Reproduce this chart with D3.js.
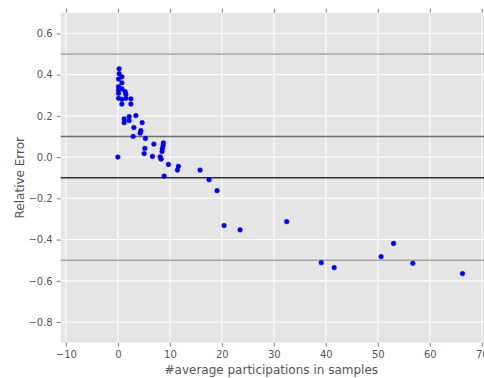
<!DOCTYPE html>
<html>
<head>
<meta charset="utf-8">
<script src="https://cdn.jsdelivr.net/npm/d3@7"></script>
<style>
  html, body { margin: 0; padding: 0; background: #fff; }
  svg { display: block; font-family: "DejaVu Sans", sans-serif; }
</style>
</head>
<body>
<div id="chart"></div>
<script>
// Average participations in samples (x) vs. relative error (y)
const participations = [
  0.25, 0.25, 0.77, 0.12, 0.77, 0.12, 0.77, 0.12, 0.12, 1.40, 1.54, 0.12, 0.77, 1.54, 2.50,
  0.77, 2.50, 1.21, 1.21, 2.17, 2.17, 3.46, 4.67, 3.07, 4.42, 4.28, 2.94, 5.30, 6.92,
  8.76, 8.70, 8.57, 8.51, 5.19, 5.05, 0.00, 6.65, 8.13, 8.32, 9.72, 11.64, 11.45, 8.90,
  15.81, 17.54, 19.08, 20.42, 23.50, 32.47, 39.12, 41.61, 50.64, 53.03, 56.73, 66.28
];
const relativeError = [
  0.428, 0.404, 0.389, 0.378, 0.360, 0.341, 0.330, 0.325, 0.309, 0.317, 0.304, 0.285, 0.280, 0.285, 0.282,
  0.257, 0.257, 0.185, 0.167, 0.196, 0.177, 0.201, 0.167, 0.143, 0.128, 0.116, 0.100, 0.090, 0.063,
  0.069, 0.056, 0.042, 0.027, 0.042, 0.017, 0.000, 0.003, 0.001, -0.010, -0.036, -0.045, -0.063, -0.092,
  -0.063, -0.110, -0.163, -0.332, -0.353, -0.313, -0.512, -0.536, -0.483, -0.419, -0.515, -0.565
];

// Reference levels drawn across the plot
const refLevels = [0.5, 0.1, -0.1, -0.5];
const refColors = ["#a6a6a6", "#6e6e6e", "#2e2e2e", "#a6a6a6"];

const xTicks = [-10, 0, 10, 20, 30, 40, 50, 60, 70];
const yTicks = [-0.8, -0.6, -0.4, -0.2, 0.0, 0.2, 0.4, 0.6];
const xLabel = "#average participations in samples";
const yLabel = "Relative Error";

const W = 484, H = 378;
const margin = { left: 60.7, top: 12.7, right: -3, bottom: 35.3 };
const iw = W - margin.left - margin.right;
const ih = H - margin.top - margin.bottom;

const x = d3.scaleLinear().domain([-11, 71]).range([0, iw]);
const y = d3.scaleLinear().domain([-0.9, 0.7]).range([ih, 0]);

const fmtMinus = v => (v < 0 ? "\u2212" : "") + Math.abs(v);
const fmtY = v => (v < 0 ? "\u2212" : "") + Math.abs(v).toFixed(1);

const svg = d3.select("#chart").append("svg")
  .attr("width", W).attr("height", H);

const g = svg.append("g").attr("transform", `translate(${margin.left},${margin.top})`);

// panel background
g.append("rect").attr("width", iw).attr("height", ih).attr("fill", "#e5e5e5");

// grid lines
g.append("g").selectAll("line").data(xTicks).join("line")
  .attr("x1", d => x(d)).attr("x2", d => x(d))
  .attr("y1", 0).attr("y2", ih)
  .attr("stroke", "#fff").attr("stroke-width", 1);
g.append("g").selectAll("line").data(yTicks).join("line")
  .attr("x1", 0).attr("x2", iw)
  .attr("y1", d => y(d)).attr("y2", d => y(d))
  .attr("stroke", "#fff").attr("stroke-width", 1);

// reference lines
g.append("g").selectAll("line").data(refLevels).join("line")
  .attr("x1", 0).attr("x2", iw)
  .attr("y1", d => y(d)).attr("y2", d => y(d))
  .attr("stroke", (d, i) => refColors[i]).attr("stroke-width", 1.6);

// axes
const styleAxis = sel => {
  sel.select(".domain").remove();
  sel.selectAll(".tick line").attr("stroke", "#7f7f7f");
  sel.selectAll(".tick text").attr("fill", "#555").attr("font-size", 10)
    .attr("font-family", "DejaVu Sans, sans-serif");
};

g.append("g").attr("transform", `translate(0,${ih})`)
  .call(d3.axisBottom(x).tickValues(xTicks).tickFormat(fmtMinus).tickSize(4).tickPadding(4))
  .call(styleAxis);
g.append("g")
  .call(d3.axisTop(x).tickValues(xTicks).tickFormat("").tickSize(4))
  .call(styleAxis);
g.append("g")
  .call(d3.axisLeft(y).tickValues(yTicks).tickFormat(fmtY).tickSize(4).tickPadding(4))
  .call(styleAxis);

// points
const pts = participations.map((v, i) => [v, relativeError[i]]);
g.append("g").selectAll("circle").data(pts).join("circle")
  .attr("cx", d => x(d[0])).attr("cy", d => y(d[1]))
  .attr("r", 2.4).attr("fill", "#0000ff")
  .attr("stroke", "#0000cc").attr("stroke-width", 0.4);

// axis labels
svg.append("text")
  .attr("x", margin.left + x(29.5)).attr("y", 374)
  .attr("text-anchor", "middle").attr("font-size", 12).attr("fill", "#555")
  .text(xLabel);
svg.append("text")
  .attr("transform", `translate(24,${margin.top + ih / 2}) rotate(-90)`)
  .attr("text-anchor", "middle").attr("font-size", 12).attr("fill", "#555")
  .text(yLabel);
</script>
</body>
</html>
